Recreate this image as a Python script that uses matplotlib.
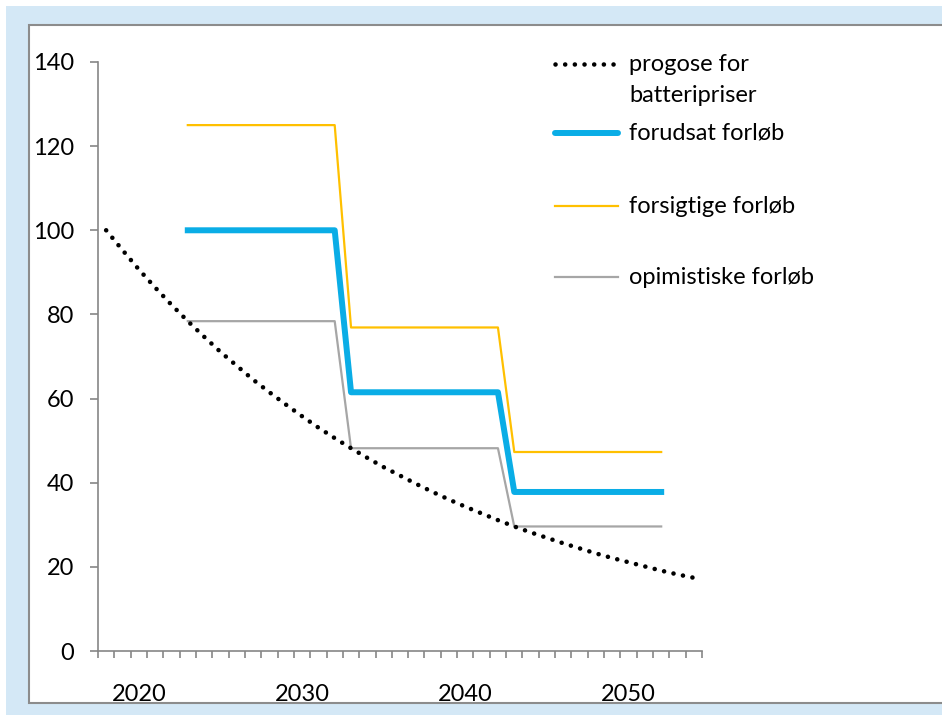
import matplotlib.pyplot as plt
from matplotlib.patches import Rectangle
from matplotlib.lines import Line2D

plt.rcParams['font.family'] = ['Lato', 'DejaVu Sans']

# categories (one per year) and series
years = list(range(2018, 2055))
prognosis = [100.0, 95.3, 90.7, 86.4, 82.3, 78.4, 74.7, 71.1, 67.8, 64.5,
             61.5, 58.6, 55.8, 53.1, 50.6, 48.2, 45.9, 43.7, 41.7, 39.7,
             37.8, 36.0, 34.3, 32.7, 31.1, 29.6, 28.2, 26.9, 25.6, 24.4,
             23.2, 22.1, 21.1, 20.1, 19.1, 18.2, 17.4]

step_years = list(range(2023, 2053))
assumed = [100.0] * 10 + [61.5] * 10 + [37.8] * 10
cautious = [125.0] * 10 + [76.9] * 10 + [47.3] * 10
optimistic = [78.4] * 10 + [48.2] * 10 + [29.6] * 10

label_years = [2020, 2030, 2040, 2050]
y_ticks = [0, 20, 40, 60, 80, 100, 120, 140]

c_blue = '#0AADE6'
c_orange = '#FFC000'
c_grey = '#A6A6A6'
c_axis = '#868686'
fs = 17

fig = plt.figure(figsize=(9.42, 7.15), dpi=100, facecolor='white')
fig.patches.append(Rectangle((6 / 942, 0), 1, 1 - 6 / 715, transform=fig.transFigure,
                             facecolor='#D4E8F6', edgecolor='none', zorder=-3))
fig.patches.append(Rectangle((29 / 942, 12 / 715), 1, 1 - 37 / 715, transform=fig.transFigure,
                             facecolor='white', edgecolor='#8C8C8C', linewidth=1.5, zorder=-2))

ax = fig.add_axes([98 / 942, 64 / 715, 604 / 942, 589 / 715])
ax.patch.set_alpha(0)

dot_style = (0, (0.01, 2.1))
ax.plot(years, prognosis, color='black', linewidth=3.3, linestyle=dot_style,
        dash_capstyle='round', zorder=4)
ax.plot(step_years, cautious, color=c_orange, linewidth=1.6, zorder=2)
ax.plot(step_years, optimistic, color=c_grey, linewidth=1.6, zorder=2)
ax.plot(step_years, assumed, color=c_blue, linewidth=4.3, zorder=3)

ax.set_xlim(years[0] - 0.5, years[-1] + 0.5)
ax.set_ylim(0, 140)
ax.set_yticks(y_ticks)
ax.set_xticks(label_years)
ax.set_xticks([y - 0.5 for y in years] + [years[-1] + 0.5], minor=True)
ax.tick_params(axis='x', which='major', length=0, pad=24, labelsize=fs)
ax.tick_params(axis='x', which='minor', length=5, width=1.2, color=c_axis, direction='out')
ax.tick_params(axis='y', length=6, width=1.2, color=c_axis, pad=11, labelsize=fs)

for side in ['top', 'right']:
    ax.spines[side].set_visible(False)
for side in ['left', 'bottom']:
    ax.spines[side].set_color(c_axis)
    ax.spines[side].set_linewidth(1.2)

# legend drawn by hand to keep Excel's uneven spacing
legend_items = [
    ('progose for\nbatteripriser', dict(color='black', linewidth=3.3, linestyle=dot_style,
                                       dash_capstyle='round'), 64),
    ('forudsat forløb', dict(color=c_blue, linewidth=4.3, solid_capstyle='round'), 133),
    ('forsigtige forløb', dict(color=c_orange, linewidth=1.6), 206),
    ('opimistiske forløb', dict(color=c_grey, linewidth=1.6), 277),
]
for text, style, ypix in legend_items:
    yf = 1 - ypix / 715
    fig.add_artist(Line2D([555 / 942, 618 / 942], [yf, yf], transform=fig.transFigure, **style))
    fig.text(629 / 942, yf + 10 / 715, text, ha='left', va='top', fontsize=fs,
             linespacing=1.6)

fig.savefig('out.png', dpi=100, facecolor=fig.get_facecolor())
